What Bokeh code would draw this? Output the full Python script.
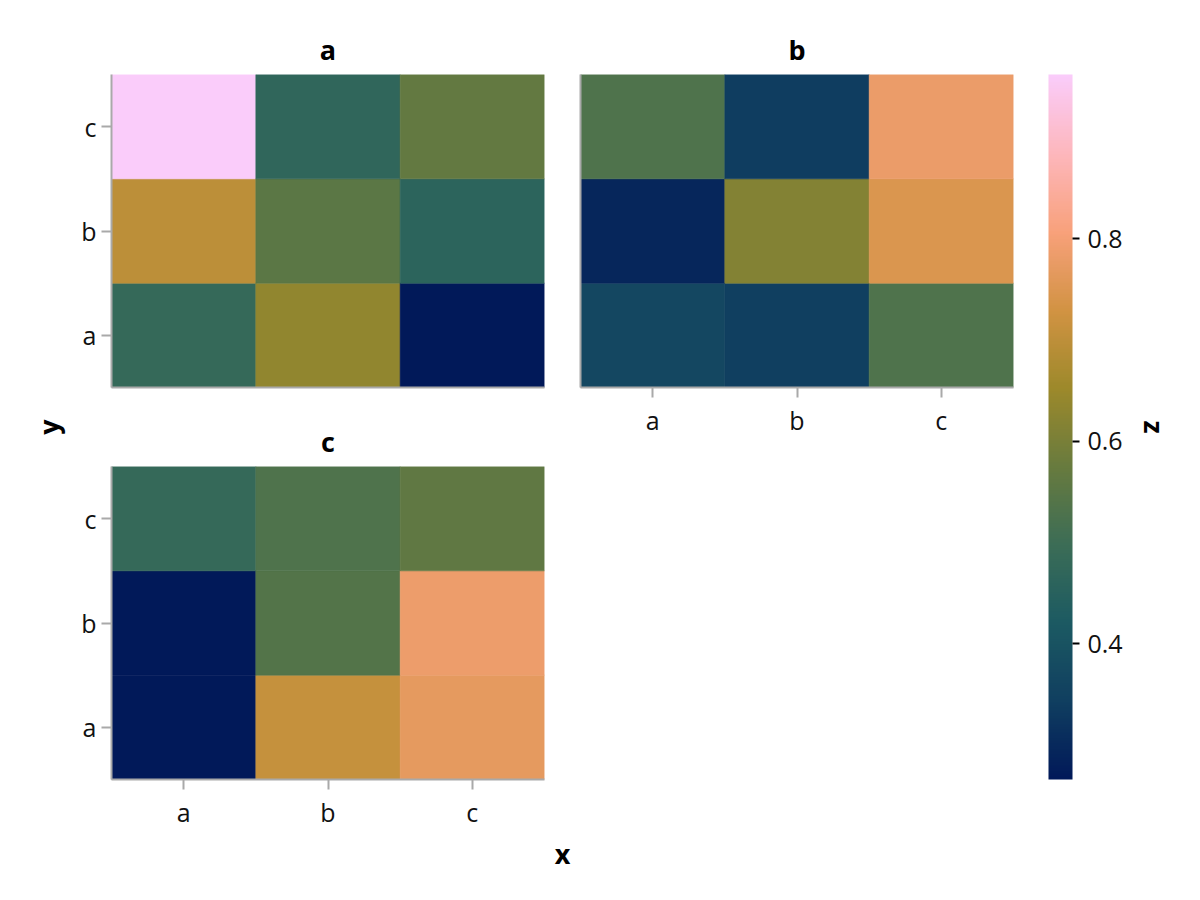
import numpy as np
from bokeh.plotting import figure
from bokeh.models import (LinearColorMapper, ColorBar, Title, FixedTicker,
                          ColumnDataSource, Range1d)
from bokeh.layouts import row, column
from bokeh.embed import file_html
from bokeh.resources import INLINE

# ---------------- data ----------------
categories = ["a", "b", "c"]
cell_x = ["a", "a", "a", "b", "b", "b", "c", "c", "c"]
cell_y = ["a", "b", "c", "a", "b", "c", "a", "b", "c"]
z_facet_a = [0.481, 0.697, 0.962, 0.634, 0.552, 0.467, 0.268, 0.460, 0.565]
z_facet_b = [0.368, 0.293, 0.532, 0.342, 0.614, 0.340, 0.530, 0.746, 0.780]
z_facet_c = [0.2657, 0.267, 0.481, 0.710, 0.540, 0.532, 0.767, 0.785, 0.560]
facet_titles = ["a", "b", "c"]
cbar_ticks = [0.4, 0.6, 0.8]

# batlow colour map anchors
batlow_anchors = ["#011959", "#103F60", "#1C5A62", "#3C6D56", "#687B3E",
                  "#9D892B", "#D29343", "#F8A17B", "#FDB7BC", "#FACCFA"]


def build_palette(anchors, n=256):
    rgb = np.array([[int(h[i:i + 2], 16) for i in (1, 3, 5)] for h in anchors], float)
    pos = np.linspace(0, 1, len(anchors))
    t = np.linspace(0, 1, n)
    out = []
    for tt in t:
        c = [np.interp(tt, pos, rgb[:, k]) for k in range(3)]
        out.append("#%02x%02x%02x" % tuple(int(round(v)) for v in c))
    return out


palette = build_palette(batlow_anchors)
all_z = z_facet_a + z_facet_b + z_facet_c
mapper = LinearColorMapper(palette=palette, low=min(all_z), high=max(all_z))

FONT = "Open Sans"
TICK_FS = "25px"
TITLE_FS = "27px"
SPINE = "#a9a9a9"


def style_axis(ax, show_ticks):
    ax.axis_line_color = SPINE
    ax.axis_line_width = 2
    ax.major_tick_line_color = SPINE
    ax.major_tick_line_width = 2
    ax.major_tick_out = 10
    ax.major_tick_in = 0
    ax.minor_tick_line_color = None
    ax.major_label_text_font = FONT
    ax.major_label_text_font_size = TICK_FS
    ax.major_label_text_color = "#111111"
    ax.major_label_standoff = 5
    if not show_ticks:
        ax.ticker = FixedTicker(ticks=[])


def facet(title, zvals, show_x, show_y, bl, br, bt, bb):
    p = figure(x_range=categories, y_range=categories,
               frame_width=433, frame_height=313,
               min_border_left=bl, min_border_right=br,
               min_border_top=bt, min_border_bottom=bb,
               output_backend="svg", toolbar_location=None,
               outline_line_color=None)
    src = ColumnDataSource(dict(x=cell_x, y=cell_y, z=zvals))
    p.rect(x="x", y="y", width=1, height=1, source=src,
           fill_color={"field": "z", "transform": mapper},
           line_color={"field": "z", "transform": mapper}, line_width=0.6)
    p.grid.visible = False
    style_axis(p.xaxis[0], show_x)
    style_axis(p.yaxis[0], show_y)
    p.title.text = title
    p.title.align = "center"
    p.title.text_font = FONT
    p.title.text_font_size = TITLE_FS
    p.title.text_font_style = "bold"
    p.title.text_color = "black"
    p.title.standoff = 13
    return p


fa = facet(facet_titles[0], z_facet_a, False, True, 41, 18, 74, 20)
fc = facet(facet_titles[2], z_facet_c, True, True, 41, 18, 59, 46)
fb = facet(facet_titles[1], z_facet_b, True, False, 18, 10, 74, 46)

# y label
ylab = figure(frame_width=1, frame_height=705, min_border_left=69, min_border_right=0,
              min_border_top=74, min_border_bottom=51,
              x_range=Range1d(0, 1), y_range=Range1d(0, 1),
              x_axis_location=None, y_axis_location=None,
              output_backend="svg", toolbar_location=None, outline_line_color=None)
ylab.grid.visible = False
ylab.add_layout(Title(text="y", align="center", text_font=FONT, text_font_size=TITLE_FS,
                      text_font_style="bold", text_color="black", standoff=6), "left")

# x label
xlab = figure(frame_width=902, frame_height=1, min_border_left=41, min_border_right=10,
              min_border_top=0, min_border_bottom=40,
              x_range=Range1d(0, 1), y_range=Range1d(0, 1),
              x_axis_location=None, y_axis_location=None,
              output_backend="svg", toolbar_location=None, outline_line_color=None)
xlab.grid.visible = False
xlab.add_layout(Title(text="x", align="center", text_font=FONT, text_font_size=TITLE_FS,
                      text_font_style="bold", text_color="black", standoff=0), "below")

# colour bar
cbf = figure(frame_width=1, frame_height=705, min_border_left=24, min_border_right=20,
             min_border_top=74, min_border_bottom=51,
             x_range=Range1d(0, 1), y_range=Range1d(0, 1),
             x_axis_location=None, y_axis_location=None,
             output_backend="svg", toolbar_location=None, outline_line_color=None)
cbf.grid.visible = False
cb = ColorBar(color_mapper=mapper, ticker=FixedTicker(ticks=cbar_ticks),
              width=24, padding=0, margin=0,
              major_tick_out=7, major_tick_in=0,
              major_tick_line_color="black", major_tick_line_width=2,
              minor_tick_line_color=None, bar_line_color=None,
              label_standoff=8, major_label_text_font=FONT,
              major_label_text_font_size=TICK_FS, major_label_text_color="#111111",
              background_fill_color=None)
cbf.add_layout(cb, "right")
cbf.add_layout(Title(text="z", align="center", text_font=FONT, text_font_size=TITLE_FS,
                     text_font_style="bold", text_color="black", standoff=20), "right")

layout = row(ylab, column(row(column(fa, fc), fb), xlab), cbf)

open("out.html", "w").write(file_html(layout, INLINE))
